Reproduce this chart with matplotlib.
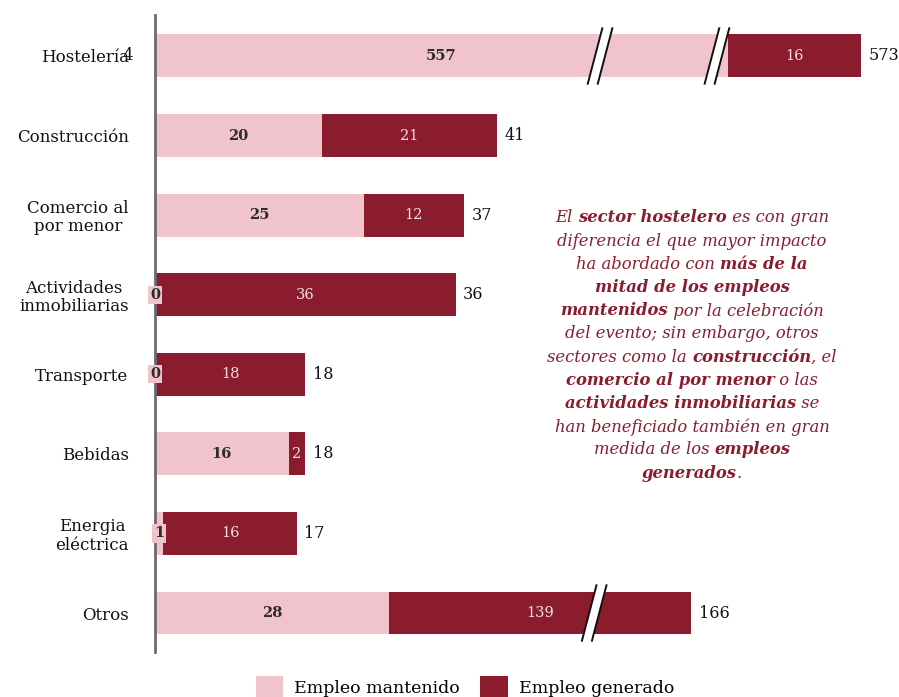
import matplotlib
matplotlib.use('Agg')
import matplotlib.pyplot as plt
from matplotlib.patches import Patch, Polygon
from matplotlib.transforms import IdentityTransform

# datos
categorias = ['Hostelería', 'Construcción', 'Comercio al\npor menor', 'Actividades\ninmobiliarias',
              'Transporte', 'Bebidas', 'Energia\neléctrica', 'Otros']
mantenido = [557, 20, 25, 0, 0, 16, 1, 28]
generado = [16, 21, 12, 36, 18, 2, 16, 139]
totales = [573, 41, 37, 36, 18, 18, 17, 166]
# parte oculta por el corte del eje en cada tramo
corte_mant = [488.4, 0, 0, 0, 0, 0, 0, 0]
corte_gen = [0, 0, 0, 0, 0, 0, 0, 102.8]
# posiciones de las marcas de corte (fila, x)
cortes = [(0, 52.7), (0, 66.7), (7, 52.0)]

C_MANT = '#f1c4cd'
C_GEN = '#8b1c2e'
TXT = '#2b2b2b'
SERIF = 'DejaVu Serif'

fig = plt.figure(figsize=(8.99, 6.97), dpi=100)
ax = fig.add_axes([155 / 899, 45 / 697, 744 / 899, 637 / 697])

y = list(range(len(categorias)))
ancho_m = [m - c for m, c in zip(mantenido, corte_mant)]
ancho_g = [g - c for g, c in zip(generado, corte_gen)]
h = 0.54

ax.barh(y, ancho_m, height=h, color=C_MANT)
ax.barh(y, ancho_g, left=ancho_m, height=h, color=C_GEN)

for i in y:
    # etiqueta mantenido
    xm = ancho_m[i] / 2
    if ancho_m[i] < 2:
        ax.text(xm, i, str(mantenido[i]), ha='center', va='center', fontsize=10.5,
                family=SERIF, fontweight='bold', color=TXT,
                bbox=dict(boxstyle='square,pad=0.15', fc=C_MANT, ec='none'))
    else:
        ax.text(xm, i, str(mantenido[i]), ha='center', va='center', fontsize=10.5,
                family=SERIF, fontweight='bold', color=TXT)
    # etiqueta generado
    xg = ancho_m[i] + ancho_g[i] / 2
    ax.text(xg, i, str(generado[i]), ha='center', va='center', fontsize=10.5,
            family=SERIF, color='#f3dfe3')
    # total
    fin = ancho_m[i] + ancho_g[i]
    ax.text(fin + 0.9, i, str(totales[i]), ha='left', va='center',
            fontsize=11.5, family=SERIF, color='#111111')

# marcas de corte
dx, dy, gap = 0.9, 0.36, 1.2
for fila, xc in cortes:
    poly = Polygon([(xc - dx, fila + dy), (xc + dx, fila - dy), (xc + dx + gap, fila - dy),
                    (xc - dx + gap, fila + dy)], closed=True, fc='white', ec='none', zorder=3)
    ax.add_patch(poly)
    for off in (0, gap):
        ax.plot([xc - dx + off, xc + dx + off], [fila + dy, fila - dy], color='#111111', lw=1.4,
                zorder=4, solid_capstyle='butt')

ax.set_xlim(0, 744 / 8.35)
ax.set_ylim(7.49, -0.515)
ax.set_yticks(y)
ax.set_yticklabels(categorias, family=SERIF, fontsize=12, color='#111111',
                   multialignment='center', linespacing=1.1)
ax.tick_params(axis='y', length=0, pad=19)
ax.set_xticks([])
for s in ['top', 'right', 'bottom']:
    ax.spines[s].set_visible(False)
ax.spines['left'].set_color('#6b6b6b')
ax.spines['left'].set_linewidth(2)

# el "4" que se superpone en la etiqueta de Hostelería
fig.text(122 / 899, 1 - 56 / 697, '4', ha='left', va='center', family=SERIF,
         fontsize=12, color='#111111')

# texto explicativo
lineas = [
    [("El ", 0), ("sector hostelero", 1), (" es con gran", 0)],
    [("diferencia el que mayor impacto", 0)],
    [("ha abordado con ", 0), ("más de la", 1)],
    [("mitad de los empleos", 1)],
    [("mantenidos", 1), (" por la celebración", 0)],
    [("del evento; sin embargo, otros", 0)],
    [("sectores como la ", 0), ("construcción", 1), (", el", 0)],
    [("comercio al por menor", 1), (" o las", 0)],
    [("actividades inmobiliarias", 1), (" se", 0)],
    [("han beneficiado también en gran", 0)],
    [("medida de los ", 0), ("empleos", 1)],
    [("generados", 1), (".", 0)],
]
renderer = fig.canvas.get_renderer()
cx = 692
for k, linea in enumerate(lineas):
    ypix = 697 - (218 + k * 23.2)
    piezas = []
    total = 0
    for txt, neg in linea:
        t = fig.text(0, ypix, txt, transform=IdentityTransform(), ha='left', va='center',
                     family=SERIF, style='italic', fontsize=11.8,
                     fontweight='bold' if neg else 'normal', color=C_GEN)
        w = t.get_window_extent(renderer=renderer).width
        piezas.append((t, w))
        total += w
    x0 = cx - total / 2
    for t, w in piezas:
        t.set_x(x0)
        x0 += w

# leyenda
fig.legend(handles=[Patch(fc=C_MANT, ec='none'), Patch(fc=C_GEN, ec='none')],
           labels=['Empleo mantenido', 'Empleo generado'], loc='upper center',
           bbox_to_anchor=(0.517, 0.052), ncol=2, frameon=False,
           prop={'family': SERIF, 'size': 12.5}, handlelength=1.6, handleheight=1.6,
           columnspacing=1.2, handletextpad=0.6)

fig.savefig('out.png', dpi=100)
